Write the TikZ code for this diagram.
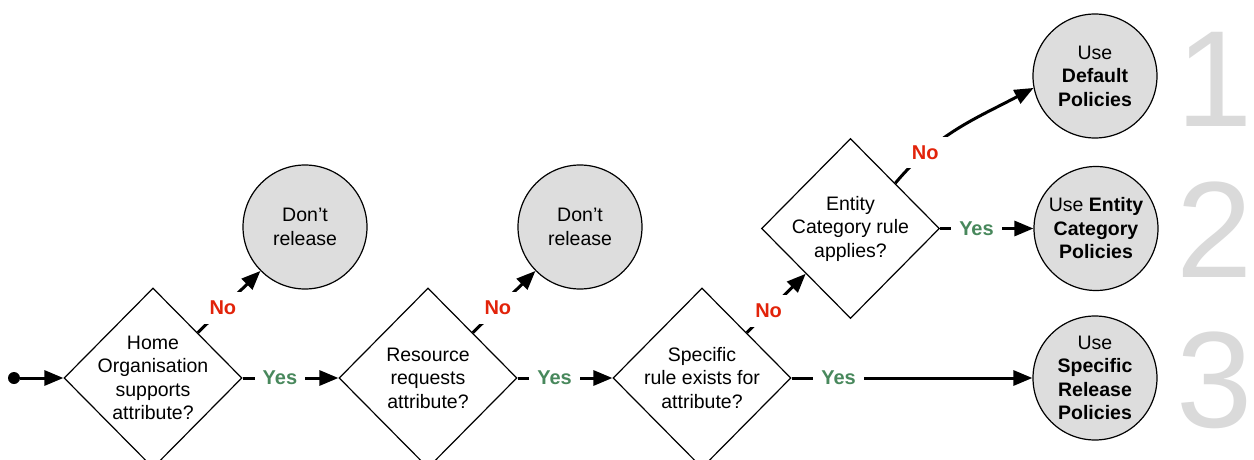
\documentclass[tikz,border=0pt]{standalone}
\usepackage{fontspec}
\setmainfont{Liberation Sans}
\usetikzlibrary{shapes.geometric,arrows.meta,calc}
\definecolor{noRed}{RGB}{226,35,10}
\definecolor{yesGreen}{RGB}{72,136,92}
\definecolor{circFill}{RGB}{221,221,221}
\definecolor{numGray}{RGB}{218,218,218}
\begin{document}
\begin{tikzpicture}[x=1pt,y=1pt,
  every node/.style={font=\fontsize{19.5}{23.5}\selectfont},
  dia/.style={diamond, draw, line width=1.2pt, fill=white, minimum width=178pt, minimum height=180pt, inner sep=0pt},
  endc/.style={circle, draw, line width=1.2pt, fill=circFill, minimum size=124pt, inner sep=0pt},
  txt/.style={align=center, inner sep=0pt},
  conn/.style={line width=3pt, -{Triangle[length=19pt,width=15pt]}},
  nolab/.style={fill=white, text=noRed, font=\fontsize{20}{23.5}\selectfont\bfseries, inner sep=9pt},
  yeslab/.style={fill=white, text=yesGreen, font=\fontsize{20}{23.5}\selectfont\bfseries, inner sep=8pt},
  bignum/.style={text=numGray, font=\fontsize{137}{140}\selectfont, anchor=base, inner sep=0pt}
]
\path[use as bounding box] (0,0) rectangle (1254,-460);
\clip (0,0) rectangle (1254,-460);

% shapes
\node[circle, fill=black, minimum size=12pt, inner sep=0pt] (s) at (14,-378) {};
\node[dia] (d1) at (153,-378) {};
\node[dia] (d2) at (428,-378) {};
\node[dia] (d3) at (702,-378) {};
\node[dia] (d4) at (850.5,-228.5) {};
\node[endc] (c1) at (305,-227) {};
\node[endc] (c2) at (580,-227) {};
\node[endc] (c3) at (1095,-76) {};
\node[endc] (c4) at (1096,-228.5) {};
\node[endc] (c5) at (1095,-378) {};

% texts
\node[txt] (d1t) at (d1) {Home\\Organisation\\supports\\attribute?};
\node[txt] (d2t) at (d2) {Resource\\requests\\attribute?};
\node[txt] (d3t) at (d3) {Specific\\rule exists for\\attribute?};
\node[txt] (d4t) at (d4) {Entity\\Category rule\\applies?};
\node[txt] (c1t) at (c1) {Don’t\\release};
\node[txt] (c2t) at (c2) {Don’t\\release};
\node[txt] (c3t) at (c3) {Use\\\textbf{Default}\\\textbf{Policies}};
\node[txt] (c4t) at (c4) {Use \textbf{Entity}\\\textbf{Category}\\\textbf{Policies}};
\node[txt] (c5t) at (c5) {Use\\\textbf{Specific}\\\textbf{Release}\\\textbf{Policies}};

% big numerals
\node[bignum] (n1) at (1215,-126) {1};
\node[bignum] (n2) at (1215,-277) {2};
\node[bignum] (n3) at (1215,-427) {3};

% connectors
\draw[conn] (s) -- (d1.west);
\draw[conn] (d1.east) -- node[yeslab, pos=.39] {Yes} (d2.west);
\draw[conn] (d2.east) -- node[yeslab, pos=.39] {Yes} (d3.west);
\draw[conn] (d3.east) -- node[yeslab, pos=.195] {Yes} (c5);
\draw[conn] (d4.east) -- node[yeslab, pos=.39] {Yes} (c4);
\draw[conn] ($(d1.north)!.5!(d1.east)$) -- node[nolab, pos=.4] {No} (c1);
\draw[conn] ($(d2.north)!.5!(d2.east)$) -- node[nolab, pos=.4] {No} (c2);
\draw[conn] ($(d3.north)!.5!(d3.east)$) -- node[nolab, pos=.37] {No} ($(d4.south)!.5!(d4.west)$);
\draw[conn] ($(d4.north)!.5!(d4.east)$) to[out=50, in=208] node[nolab, pos=.24] {No} (c3.191);
\end{tikzpicture}
\end{document}
